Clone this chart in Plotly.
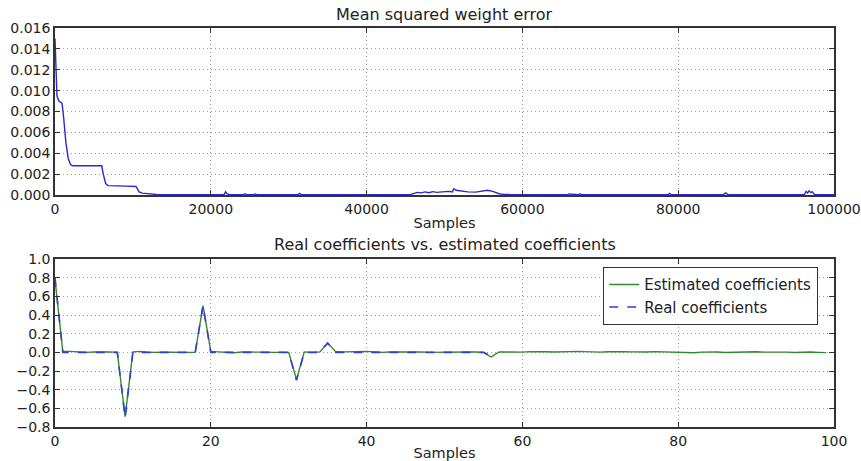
import plotly.graph_objects as go

# Mean squared weight error, sampled at the knees of the learning curve
mse_samples = [0, 100, 250, 500, 900, 1100, 1400, 1700, 2000, 2300, 6000, 6200, 6500, 6800,
               9000, 9100, 10400, 10800, 11200, 12000, 13000, 14000, 21700, 21900, 22100,
               22400, 24200, 24400, 24600, 25500, 25700, 25900, 31200, 31400, 31600, 37000,
               37100, 37200, 45600, 46000, 46500, 47000, 47500, 48000, 48500, 49000, 49500,
               50000, 50500, 51000, 51200, 51500, 52000, 53000, 54000, 55000, 55500, 56200,
               57000, 57600, 58500, 65800, 66000, 67200, 67400, 67600, 78700, 78900, 79100,
               85800, 86100, 86400, 96200, 96400, 96600, 96800, 97000, 97200, 97500, 100000]
mse_values = [0.0150, 0.0120, 0.0095, 0.0090, 0.0088, 0.0075, 0.0050, 0.0035, 0.0029, 0.0028,
              0.0028, 0.0020, 0.0011, 0.0009, 0.0009, 0.00085, 0.00082, 0.0003, 0.00018, 0.0001,
              0.00005, 0.00003, 0.00003, 0.0003, 0.0001, 0.00004, 0.00004, 0.00012, 0.00004,
              0.00004, 0.0001, 0.00004, 0.00004, 0.00015, 0.00004, 0.00004, 0.00008, 0.00004,
              0.00004, 0.00012, 0.00025, 0.00020, 0.00030, 0.00022, 0.00032, 0.00025, 0.00030,
              0.00028, 0.00035, 0.00030, 0.00060, 0.00045, 0.00040, 0.00030, 0.00028, 0.00040,
              0.00045, 0.00035, 0.00012, 0.00006, 0.00004, 0.00004, 0.00010, 0.00004, 0.00012,
              0.00004, 0.00004, 0.00015, 0.00004, 0.00004, 0.00020, 0.00004, 0.00004, 0.00035,
              0.00020, 0.00040, 0.00025, 0.00030, 0.00005, 0.00004]

# Filter taps
estimated_coefficients = [
    0.78, 0.01, 0.01, 0.005, 0.0, 0.003, 0.008, 0.005, 0.0, -0.69,
    0.005, 0.01, 0.0, 0.003, 0.006, 0.002, 0.0, 0.004, 0.0, 0.50,
    0.01, 0.005, 0.0, -0.005, 0.003, 0.0, 0.005, 0.002, 0.0, 0.004,
    0.0, -0.29, 0.005, 0.0, 0.005, 0.10, 0.01, 0.005, 0.008, 0.01,
    0.01, 0.005, 0.0, 0.004, 0.005, 0.003, 0.008, 0.005, 0.0, 0.002,
    0.005, 0.0, 0.003, 0.004, 0.003, 0.0, -0.05, 0.005, 0.003, 0.0,
    0.002, 0.008, 0.01, 0.006, 0.004, 0.002, 0.008, 0.01, 0.006, 0.004,
    0.002, 0.006, 0.01, 0.008, 0.005, 0.002, 0.004, 0.008, 0.006, 0.002,
    0.004, 0.002, -0.005, 0.002, 0.006, 0.004, -0.002, 0.0, 0.004, 0.008,
    0.006, 0.002, 0.004, 0.006, 0.002, -0.002, 0.002, 0.004, 0.0, -0.003,
]
real_coefficients = [
    0.8, 0, 0, 0, 0, 0, 0, 0, 0, -0.7,
    0, 0, 0, 0, 0, 0, 0, 0, 0, 0.5,
    0, 0, 0, 0, 0, 0, 0, 0, 0, 0,
    0, -0.3, 0, 0, 0, 0.1, 0, 0, 0, 0,
    0, 0, 0, 0, 0, 0, 0, 0, 0, 0,
    0, 0, 0, 0, 0, 0, -0.04,
]

mse_ticks = [0.000, 0.002, 0.004, 0.006, 0.008, 0.010, 0.012, 0.014, 0.016]
coef_ticks = [-0.8, -0.6, -0.4, -0.2, 0.0, 0.2, 0.4, 0.6, 0.8, 1.0]
sample_ticks = [0, 20000, 40000, 60000, 80000, 100000]
tap_ticks = [0, 20, 40, 60, 80, 100]

W, H = 861, 461
FONT = "DejaVu Sans"
TXT = "#222222"

fig = go.Figure()
fig.add_trace(go.Scatter(x=mse_samples, y=mse_values, mode="lines",
                         line=dict(color="#2828d0", width=1.4),
                         showlegend=False, xaxis="x", yaxis="y"))
fig.add_trace(go.Scatter(x=list(range(len(estimated_coefficients))), y=estimated_coefficients,
                         mode="lines", name="Estimated coefficients",
                         line=dict(color="#2e8b2e", width=1.4), xaxis="x2", yaxis="y2"))
fig.add_trace(go.Scatter(x=list(range(len(real_coefficients))), y=real_coefficients,
                         mode="lines", name="Real coefficients",
                         line=dict(color="#3a3ad8", width=1.6, dash="dash"),
                         xaxis="x2", yaxis="y2"))

axis_common = dict(showline=True, linecolor="#333333", linewidth=1.5, mirror="ticks",
                   ticks="inside", ticklen=5, tickcolor="#333333", showgrid=True,
                   gridcolor="#a0a0a0", griddash="1px,3px", gridwidth=1, zeroline=False,
                   automargin=False,
                   tickfont=dict(family=FONT, size=14, color=TXT))

x_dom = [55 / W, 834 / W]
fig.update_layout(
    width=W, height=H, margin=dict(l=0, r=0, t=0, b=0),
    paper_bgcolor="white", plot_bgcolor="white",
    font=dict(family=FONT, color=TXT),
    xaxis=dict(axis_common, domain=x_dom, range=[0, 100000], tickvals=sample_ticks,
               ticktext=[str(v) for v in sample_ticks],
               anchor="y", title=dict(text="Samples", font=dict(size=14.5), standoff=2)),
    yaxis=dict(axis_common, domain=[1 - 195 / H, 1 - 28 / H], range=[0, 0.016], tickvals=mse_ticks,
               tickformat=".3f", anchor="x"),
    xaxis2=dict(axis_common, domain=x_dom, range=[0, 100], tickvals=tap_ticks,
                anchor="y2", title=dict(text="Samples", font=dict(size=14.5), standoff=2)),
    yaxis2=dict(axis_common, domain=[1 - 427 / H, 1 - 259 / H], range=[-0.8, 1.0], tickvals=coef_ticks,
                tickformat=".1f", anchor="x2"),
    legend=dict(x=603 / W, y=1 - 267 / H, xanchor="left", yanchor="top",
                bordercolor="#333333", borderwidth=1.2, bgcolor="white",
                font=dict(family=FONT, size=15, color=TXT), tracegroupgap=0),
    annotations=[
        dict(text="Mean squared weight error", x=(55 + 834) / 2 / W, y=1 - 15 / H,
             xref="paper", yref="paper", xanchor="center", yanchor="middle",
             showarrow=False, font=dict(size=16, color=TXT)),
        dict(text="Real coefficients vs. estimated coefficients", x=(55 + 834) / 2 / W, y=1 - 244 / H,
             xref="paper", yref="paper", xanchor="center", yanchor="middle",
             showarrow=False, font=dict(size=16, color=TXT)),
    ],
)

fig.write_html("out.html")
